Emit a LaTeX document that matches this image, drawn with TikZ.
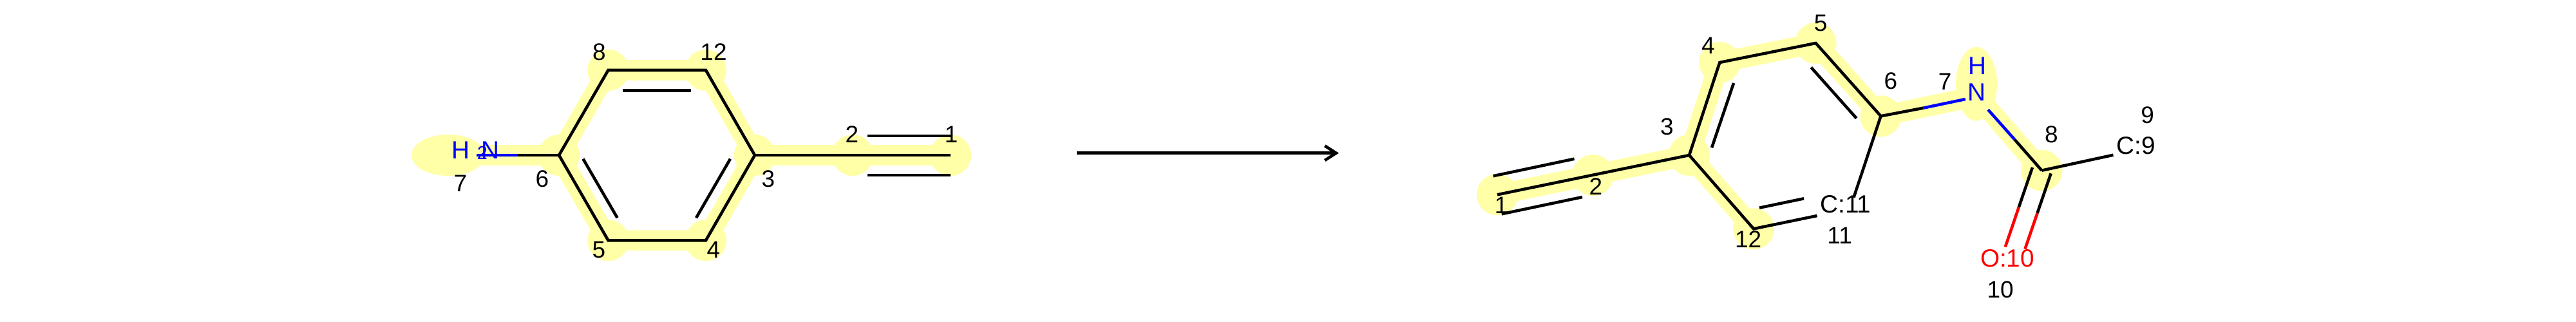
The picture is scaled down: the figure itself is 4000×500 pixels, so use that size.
\documentclass[tikz,border=0pt]{standalone}
\usepackage{fontspec}
\setmainfont{Liberation Sans}
\usetikzlibrary{arrows.meta}
\definecolor{hlyellow}{rgb}{1,1,0.66}
\definecolor{atomblue}{rgb}{0,0,1}
\definecolor{atomred}{rgb}{1,0,0}
\tikzset{
 bond/.style={line width=1.3pt},
 hlbond/.style={line width=9pt, color=hlyellow},
 hlatom/.style={fill=hlyellow},
 idx/.style={inner sep=0pt, font=\fontsize{10.5}{12}\selectfont},
 atomlab/.style={inner sep=0pt, font=\fontsize{11}{12}\selectfont},
 sublab/.style={inner sep=0pt, font=\fontsize{8.2}{10}\selectfont}
}

\begin{document}
\begin{tikzpicture}[x=0.01cm, y=-0.01cm]
 \useasboundingbox (0, 0) rectangle (4000, 500);

 % reactant
 \coordinate (la1) at (1476, 241);
 \coordinate (la2) at (1324, 241);
 \coordinate (la3) at (1172, 241);
 \coordinate (la4) at (1096, 373.3);
 \coordinate (la5) at (944.4, 373.3);
 \coordinate (la6) at (868, 241);
 \coordinate (la7) at (740, 241);
 \coordinate (la7m) at (803.6, 241);
 \coordinate (la8) at (944.4, 109);
 \coordinate (la12) at (1096, 109);

 \draw [hlbond] (la7) -- (la6) -- (la8) -- (la12) -- (la3) -- (la4) -- (la5) -- (la6);
 \draw [hlbond] (la3) -- (la1);
 \foreach \a in {la1, la2, la3, la4, la5, la6, la8, la12}
  \fill [hlatom] (\a) circle [radius=0.32cm];
 \fill [hlatom] (696, 241) ellipse [x radius=0.57cm, y radius=0.32cm];

 \draw [bond] (la6) -- (la8) -- (la12) -- (la3) -- (la4) -- (la5) -- cycle;
 \draw [bond] (la3) -- (la1);
 \draw [bond] (966.6, 140.3) coordinate (ld8) -- (1073, 140.3) coordinate (ld12);
 \draw [bond] (905.4, 246.7) coordinate (ld6) -- (958.6, 338.3) coordinate (ld5);
 \draw [bond] (1134, 246.7) coordinate (ld3) -- (1081, 338.3) coordinate (ld4);
 \draw [bond] (1347, 211) coordinate (lt2) -- (1476, 211) coordinate (lt1);
 \draw [bond] (1347, 272) coordinate (lb2) -- (1476, 272) coordinate (lb1);
 \draw [bond] (la6) -- (la7m);
 \draw [bond, atomblue] (la7m) -- (la7);

 \node [atomlab, atomblue] (lh) at (715.5, 233.5) {H};
 \node [sublab, atomblue] (lsub) at (749, 237) {2};
 \node [atomlab, atomblue] (ln) at (761.5, 233.5) {N};
 \node [idx] (li1) at (1477, 209) {1};
 \node [idx] (li2) at (1323, 209) {2};
 \node [idx] (li3) at (1193, 278) {3};
 \node [idx] (li4) at (1108, 388) {4};
 \node [idx] (li5) at (930, 388) {5};
 \node [idx] (li6) at (842, 277.5) {6};
 \node [idx] (li7) at (715, 285) {7};
 \node [idx] (li8) at (930.4, 81) {8};
 \node [idx] (li12) at (1108, 81) {12};

 \coordinate (arrowa) at (1672, 237.7);
 \coordinate (arrowb) at (2079, 237.7);
 \draw [bond, -{Straight Barb[length=5pt, width=6.4pt]}] (arrowa) -- (arrowb);

 % product
 \coordinate (ra1) at (2325, 302.3);
 \coordinate (ra2) at (2473.6, 272);
 \coordinate (ra3) at (2623, 241);
 \coordinate (ra4) at (2670.3, 97);
 \coordinate (ra5) at (2819.5, 67);
 \coordinate (ra6) at (2920.5, 180.3);
 \coordinate (ra7) at (3070, 149.3);
 \coordinate (ra8) at (3170.4, 264.7);
 \coordinate (ra12) at (2723, 355.3);

 \draw [hlbond] (ra1) -- (ra3) -- (ra4) -- (ra5) -- (ra6) -- (ra7) -- (ra8);
 \draw [hlbond] (ra3) -- (ra12);
 \foreach \a in {ra1, ra2, ra3, ra4, ra5, ra6, ra8, ra12}
  \fill [hlatom] (\a) circle [radius=0.32cm];
 \fill [hlatom] (3069, 130.3) ellipse [x radius=0.32cm, y radius=0.573cm];

 \coordinate (re11) at (2821.5, 335);
 \coordinate (rf11) at (2878.4, 306.7);
 \coordinate (re9) at (3281.4, 240.7);
 \draw [bond] (ra1) -- (ra3) -- (ra4) -- (ra5) -- (ra6);
 \draw [bond] (ra3) -- (ra12) -- (re11);
 \draw [bond] (rf11) -- (ra6);
 \draw [bond] (ra8) -- (re9);
 \draw [bond] (2318.6, 273.3) coordinate (rt1) -- (2444.5, 246.7) coordinate (rt2);
 \draw [bond] (2331.7, 332.3) coordinate (rb1) -- (2457, 306) coordinate (rb2);
 \draw [bond] (2658, 229.3) coordinate (rd3) -- (2692, 129) coordinate (rd4);
 \draw [bond] (2812.3, 104.7) coordinate (rd5) -- (2882.7, 183.7) coordinate (rd6);
 \draw [bond] (2732, 322.7) coordinate (rd12) -- (2801, 308.3) coordinate (rd11);

 \coordinate (rn6m) at (2986.4, 167.7);
 \coordinate (rn6e) at (3051.8, 154);
 \coordinate (rn8e) at (3087, 170.3);
 \coordinate (rn8m) at (3128.3, 216.7);
 \draw [bond] (ra6) -- (rn6m);
 \draw [bond, atomblue] (rn6m) -- (rn6e);
 \draw [bond, atomblue] (rn8e) -- (rn8m);
 \draw [bond] (rn8m) -- (ra8);

 \coordinate (ro1a) at (3155.9, 260);
 \coordinate (ro1m) at (3134.8, 321.7);
 \coordinate (ro1e) at (3113.8, 383.3);
 \coordinate (ro2a) at (3184.6, 269.3);
 \coordinate (ro2m) at (3163.5, 331);
 \coordinate (ro2e) at (3144.4, 386.7);
 \draw [bond] (ro1a) -- (ro1m);
 \draw [bond, atomred] (ro1m) -- (ro1e);
 \draw [bond] (ro2a) -- (ro2m);
 \draw [bond, atomred] (ro2m) -- (ro2e);

 \node [atomlab, atomblue] (rh) at (3070.5, 102) {H};
 \node [atomlab, atomblue] (rn) at (3069, 142.7) {N};
 \node [atomlab] (rc9) at (3316.6, 225.7) {C:9};
 \node [atomlab] (rc11) at (2865.8, 316.7) {C:11};
 \node [atomlab, atomred] (ro10) at (3116.9, 400.7) {O:10};
 \node [idx] (ri1) at (2331, 319) {1};
 \node [idx] (ri2) at (2477.8, 290) {2};
 \node [idx] (ri3) at (2588.4, 196.7) {3};
 \node [idx] (ri4) at (2652.3, 71) {4};
 \node [idx] (ri5) at (2827.2, 35.7) {5};
 \node [idx] (ri6) at (2935.8, 125.7) {6};
 \node [idx] (ri7) at (3020, 126.7) {7};
 \node [idx] (ri8) at (3185.4, 208.3) {8};
 \node [idx] (ri9) at (3334.6, 179) {9};
 \node [idx] (ri10) at (3106, 450) {10};
 \node [idx] (ri11) at (2856.6, 365.7) {11};
 \node [idx] (ri12) at (2714.7, 371.7) {12};
\end{tikzpicture}
\end{document}
